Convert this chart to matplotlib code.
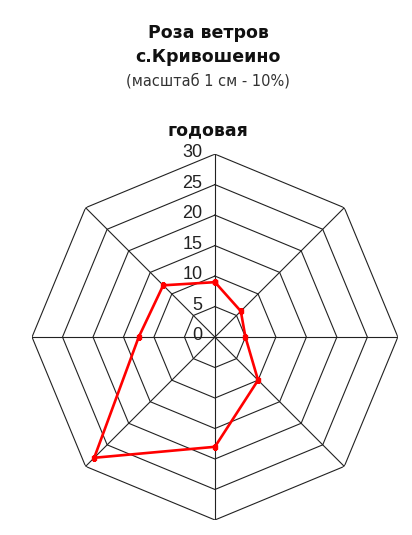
import numpy as np
import matplotlib.pyplot as plt
from matplotlib.transforms import offset_copy

plt.rcParams['font.family'] = ['Liberation Sans', 'DejaVu Sans']

# wind directions, clockwise from north
directions = ['С', 'СВ', 'В', 'ЮВ', 'Ю', 'ЮЗ', 'З', 'СЗ']
# annual wind frequency, %
freq = [9, 6, 5, 10, 18, 28, 12.5, 12]
# radial scale
rings = [0, 5, 10, 15, 20, 25, 30]

fig = plt.figure(figsize=(4.12, 5.35), dpi=100)
ax = fig.add_axes([0.0777, 0.028, 0.888, 0.684], projection='polar')
ax.set_theta_zero_location('N')
ax.set_theta_direction(-1)
ax.set_ylim(0, rings[-1])
ax.grid(False)
ax.spines['polar'].set_visible(False)
ax.set_xticks([])
ax.set_yticks([])
ax.patch.set_alpha(0)

angles = np.deg2rad(np.arange(len(directions)) * 360 / len(directions))
closed = np.append(angles, angles[0])

# octagonal grid
for r in rings[1:]:
    ax.plot(closed, [r] * len(closed), color='#222222', lw=0.8, zorder=1)
for a in angles:
    ax.plot([a, a], [0, rings[-1]], color='#222222', lw=0.8, zorder=1)

# radial scale labels
lab_tr = offset_copy(ax.transData, fig=fig, x=-9, y=1, units='points')
for r in rings:
    ax.text(0, r, str(r), transform=lab_tr, ha='right', va='center',
            fontsize=13, color='#222222', zorder=2)

# wind rose
ax.plot(closed, np.append(freq, freq[0]), color='#ff0000', lw=1.9,
        marker='s', markersize=3.5, zorder=3)

title_font = 'DejaVu Sans'
fig.text(0.505, 1 - 33 / 535, 'Роза ветров', ha='center', va='center',
         fontsize=12.5, fontweight='bold', color='#111111', family=title_font)
fig.text(0.505, 1 - 57 / 535, 'с.Кривошеино', ha='center', va='center',
         fontsize=12.5, fontweight='bold', color='#111111', family=title_font)
fig.text(0.505, 1 - 81 / 535, '(масштаб 1 см - 10%)', ha='center',
         va='center', fontsize=10.5, color='#333333', family=title_font)
fig.text(0.505, 1 - 130 / 535, 'годовая', ha='center', va='center',
         fontsize=12.5, fontweight='bold', color='#111111', family=title_font)

fig.savefig('out.png', dpi=100)
